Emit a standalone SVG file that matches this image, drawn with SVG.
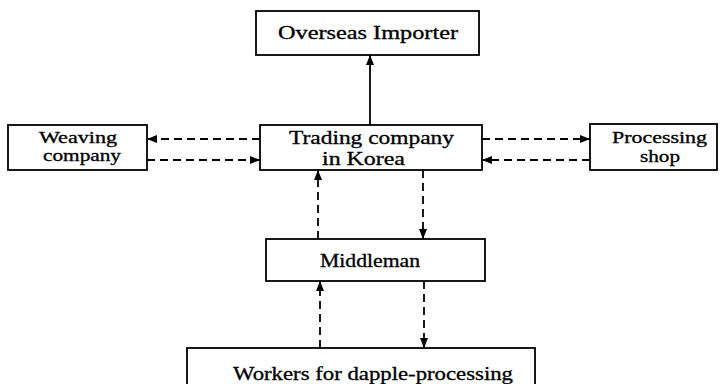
<svg xmlns="http://www.w3.org/2000/svg" width="724" height="384" viewBox="0 0 724 384">
<style>
.box{fill:#fff;stroke:#000;stroke-width:1.8}
.t{font-family:"Liberation Serif","DejaVu Serif",serif;font-size:18px;fill:#000;stroke:#000;stroke-width:0.3}
.t2{font-size:16px}
.solid{stroke:#000;stroke-width:1.8;fill:none}
.dash{stroke:#000;stroke-width:1.8;fill:none;stroke-dasharray:8 5}
</style>
<defs>
<marker id="ah" viewBox="0 0 10 8" refX="10" refY="4" markerWidth="10" markerHeight="8" markerUnits="userSpaceOnUse" orient="auto">
<path d="M0,0 L10,4 L0,8 Z" fill="#000"/>
</marker>
</defs>
<rect width="724" height="384" fill="#fff"/>
<g id="connectors">
<line class="solid" x1="370" y1="125" x2="370" y2="55" marker-end="url(#ah)"/>
<line class="dash" x1="260" y1="139" x2="147" y2="139" marker-end="url(#ah)"/>
<line class="dash" x1="147" y1="160" x2="260" y2="160" marker-end="url(#ah)"/>
<line class="dash" x1="482" y1="139" x2="590" y2="139" marker-end="url(#ah)"/>
<line class="dash" x1="590" y1="160" x2="482" y2="160" marker-end="url(#ah)"/>
<line class="dash" x1="318" y1="239" x2="318" y2="170" marker-end="url(#ah)"/>
<line class="dash" x1="423" y1="170" x2="423" y2="239" marker-end="url(#ah)"/>
<line class="dash" x1="320" y1="348" x2="320" y2="281" marker-end="url(#ah)"/>
<line class="dash" x1="424" y1="281" x2="424" y2="348" marker-end="url(#ah)"/>
</g>
<g id="overseas">
<rect class="box" x="256" y="11" width="223" height="44"/>
<text class="t" x="278" y="39" textLength="180" lengthAdjust="spacingAndGlyphs">Overseas  Importer</text>
</g>
<g id="weaving">
<rect class="box" x="8" y="125" width="139" height="45"/>
<text class="t t2" x="39" y="143" textLength="78" lengthAdjust="spacingAndGlyphs">Weaving</text>
<text class="t t2" x="43" y="161" textLength="78" lengthAdjust="spacingAndGlyphs">company</text>
</g>
<g id="trading">
<rect class="box" x="260" y="125" width="222" height="45"/>
<text class="t" x="289" y="144" textLength="165" lengthAdjust="spacingAndGlyphs">Trading company</text>
<text class="t" x="322" y="165" textLength="83" lengthAdjust="spacingAndGlyphs">in Korea</text>
</g>
<g id="processing">
<rect class="box" x="590" y="124" width="127" height="46"/>
<text class="t t2" x="612" y="143" textLength="95" lengthAdjust="spacingAndGlyphs">Processing</text>
<text class="t t2" x="640" y="162" textLength="40" lengthAdjust="spacingAndGlyphs">shop</text>
</g>
<g id="middleman">
<rect class="box" x="266" y="239" width="219" height="42"/>
<text class="t" x="320" y="267" textLength="100" lengthAdjust="spacingAndGlyphs">Middleman</text>
</g>
<g id="workers">
<rect class="box" x="187" y="348" width="348" height="50"/>
<text class="t" x="233" y="380" textLength="280" lengthAdjust="spacingAndGlyphs">Workers for dapple-processing</text>
</g>
</svg>
